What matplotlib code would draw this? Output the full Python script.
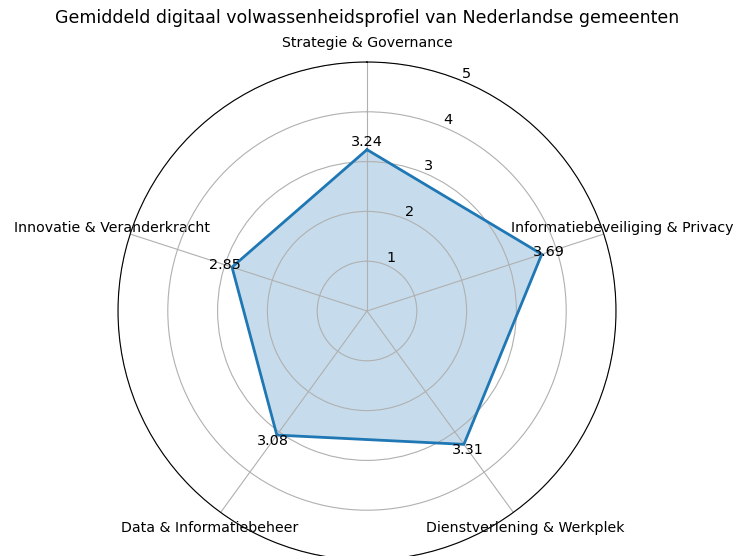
import numpy as np
import matplotlib
matplotlib.use("Agg")
import matplotlib.pyplot as plt

categories = ["Strategie & Governance", "Informatiebeveiliging & Privacy",
              "Dienstverlening & Werkplek", "Data & Informatiebeheer",
              "Innovatie & Veranderkracht"]
values = [3.24, 3.69, 3.31, 3.08, 2.85]
rticks = [1, 2, 3, 4, 5]
title = "Gemiddeld digitaal volwassenheidsprofiel van Nederlandse gemeenten"

n = len(categories)
angles = np.linspace(0, 2 * np.pi, n, endpoint=False)
ang_c = np.concatenate([angles, angles[:1]])
val_c = np.concatenate([values, values[:1]])

fig = plt.figure(figsize=(7.34, 5.56), dpi=100)
ax = fig.add_axes([118 / 734, -4 / 556, 498 / 734, 498 / 556], projection="polar")
ax.set_theta_offset(np.pi / 2)
ax.set_theta_direction(-1)
ax.plot(ang_c, val_c, color="C0", linewidth=2)
ax.fill(ang_c, val_c, color="C0", alpha=0.25)
ax.set_ylim(0, 5)
ax.set_yticks(rticks)
ax.set_yticklabels([str(t) for t in rticks], fontsize=10.4)
ax.set_xticks(angles)
ax.set_xticklabels(categories, fontsize=10.2)
for a, v in zip(angles, values):
    ax.text(a, v + 0.15, f"{v:.2f}", ha="center", va="center", fontsize=10.4)
fig.text(0.5, 1 - 18 / 556, title, ha="center", va="center", fontsize=12.5)
fig.savefig("out.png", dpi=100)
